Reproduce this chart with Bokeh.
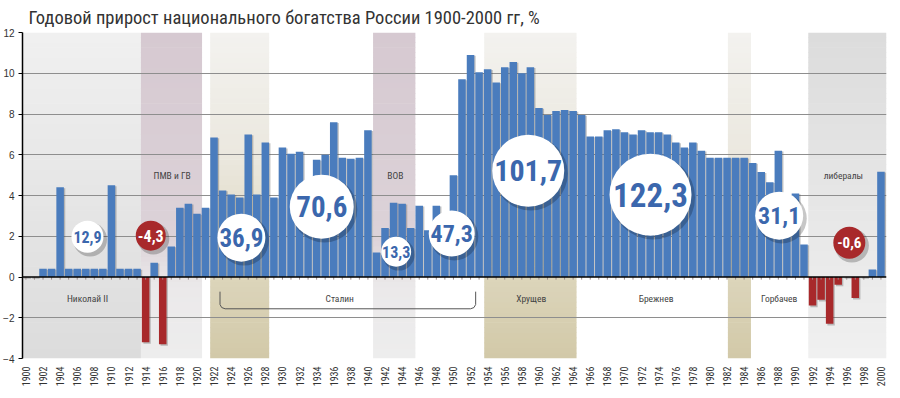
from bokeh.plotting import figure
from bokeh.models import FixedTicker, Span, ColumnDataSource
from bokeh.core.properties import value
from bokeh.embed import file_html
from bokeh.resources import INLINE
import math

# ---------------- data ----------------
years = list(range(1900, 2001))
growth = [
    0, 0, 0.4, 0.4, 4.4, 0.4, 0.4, 0.4, 0.4, 0.4,          # 1900-1909
    4.5, 0.4, 0.4, 0.4, -3.2, 0.7, -3.3, 1.5, 3.4, 3.6,    # 1910-1919
    3.1, 3.4, 6.85, 4.25, 4.05, 3.9, 7.0, 4.05, 6.6, 3.9,  # 1920-1929
    6.35, 6.05, 6.15, 4.1, 5.75, 6.0, 7.6, 5.85, 5.8, 5.85,  # 1930-1939
    7.2, 1.2, 2.4, 3.65, 3.6, 2.4, 3.5, 2.3, 3.5, 2.3,     # 1940-1949
    5.0, 9.7, 10.9, 10.05, 10.2, 9.55, 10.3, 10.55, 10.0, 10.3,  # 1950-1959
    8.3, 7.95, 8.15, 8.2, 8.15, 7.95, 6.9, 6.9, 7.2, 7.25,  # 1960-1969
    7.1, 7.0, 7.2, 7.1, 7.1, 7.0, 6.6, 6.35, 6.6, 6.2,     # 1970-1979
    5.85, 5.85, 5.85, 5.85, 5.85, 5.6, 5.15, 4.65, 6.2, 3.8,  # 1980-1989
    4.1, 1.6, -1.4, -1.12, -2.3, -0.38, 0, -1.03, 0, 0.37,  # 1990-1999
    5.17,                                                  # 2000
]
y_ticks = [-4, -2, 0, 2, 4, 6, 8, 10, 12]
x_ticks = list(range(1900, 2001, 2))

title_text = "Годовой прирост национального богатства России 1900-2000 гг, %"

# periods (shaded bands)
band_names = ["Николай II", "ПМВ и ГВ", "НЭП", "ВОВ", "Хрущев", "Андропов-Черненко", "либералы"]
band_start = [1899.6, 1913.45, 1921.55, 1940.6, 1953.6, 1982.1, 1991.5]
band_end = [1913.45, 1920.6, 1928.45, 1945.55, 1964.4, 1984.8, 2000.65]
band_kind = ["gray", "mauve", "tan", "mauve", "tan", "tan", "liberal"]

# period totals (circles)
total_text = ["12,9", "-4,3", "36,9", "70,6", "13,3", "47,3", "101,7", "122,3", "31,1", "-0,6"]
total_neg = [False, True, False, False, False, False, False, False, False, True]

# period names
period_text = ["Николай II", "ПМВ и ГВ", "ВОВ", "Сталин", "Хрущев", "Брежнев", "Горбачев", "либералы"]

# ---------------- layout / style ----------------
circ_x = [1907.2, 1914.6, 1925.2, 1934.6, 1943.3, 1949.8, 1958.75, 1973.05, 1988.1, 1996.3]
circ_y = [1.98, 2.03, 1.93, 3.45, 1.24, 2.13, 5.22, 4.04, 3.01, 1.68]
circ_d = [32, 30, 48, 64, 30, 46, 72, 82, 48, 32]
circ_fs = [16, 16, 25, 29, 16, 24, 30, 33, 24, 15]

per_x = [1907.2, 1917.1, 1943.2, 1936.7, 1959.1, 1973.7, 1988.1, 1995.6]
per_y = [-1.05, 4.97, 4.97, -1.05, -1.05, -1.05, -1.05, 4.97]

stops = {
    "gray": [(12, "#f0f0f0"), (-4, "#dcdcdc")],
    "mauve": [(12, "#d6c9d1"), (2, "#dcd2d8"), (-0.5, "#ebe9ea"), (-4, "#ededed")],
    "tan": [(12, "#f3f2ef"), (6, "#ebe8df"), (0, "#dcd5bb"), (-4, "#d2c9a8")],
    "liberal": [(12, "#dcdcdc"), (-4, "#f0f0f0")],
}

COND = "Roboto Condensed, DejaVu Sans Condensed"
BLUE = "#4a7cbd"
RED = "#a8292b"


def hex2rgb(h):
    h = h.lstrip("#")
    return tuple(int(h[i:i + 2], 16) for i in (0, 2, 4))


def interp(st, y):
    for (y0, c0), (y1, c1) in zip(st, st[1:]):
        if y1 <= y <= y0:
            t = (y0 - y) / (y0 - y1) if y0 != y1 else 0
            a, b = hex2rgb(c0), hex2rgb(c1)
            return "#%02x%02x%02x" % tuple(round(a[i] + (b[i] - a[i]) * t) for i in range(3))
    return st[-1][1] if y < st[-1][0] else st[0][1]


p = figure(width=889, height=394, x_range=(1899.6, 2000.65), y_range=(-4, 12),
           output_backend="svg", toolbar_location=None,
           min_border_left=20, min_border_right=3, min_border_top=32, min_border_bottom=36)
p.outline_line_color = None
p.background_fill_color = "white"
p.border_fill_color = "white"

# title
p.title.text = title_text
p.title.text_font = COND
p.title.text_font_size = "18.5px"
p.title.text_font_style = "normal"
p.title.text_color = "#333333"
p.title.standoff = 8
p.title.offset = 6

# bands with vertical gradient
step = 0.25
nsl = int(16 / step)
ql, qr, qb, qt, qc = [], [], [], [], []
for s, e, k in zip(band_start, band_end, band_kind):
    for i in range(nsl):
        yb = -4 + i * step
        ql.append(s); qr.append(e); qb.append(yb); qt.append(min(12, yb + step + 0.03))
        qc.append(interp(stops[k], yb + step / 2))
p.quad(left=ql, right=qr, bottom=qb, top=qt, fill_color=qc, line_color=None, level="image")

# grid
p.xgrid.visible = False
p.ygrid.ticker = FixedTicker(ticks=[t for t in y_ticks if t not in (-4, 0)])
p.ygrid.grid_line_color = "#8e8e8e"
p.ygrid.grid_line_width = 1

# bar shadows and bars
colors = [BLUE if v >= 0 else RED for v in growth]
src = ColumnDataSource(dict(x=years, v=growth, c=colors, xs=[y + 0.17 for y in years],
                            vs=[v - 0.04 if v > 0 else v - 0.08 for v in growth]))
p.vbar(x="xs", top="vs", bottom=0, width=0.86, source=src, fill_color="#555555",
       fill_alpha=0.35, line_color=None)
p.vbar(x="x", top="v", bottom=0, width=0.88, source=src, fill_color="c", line_color=None)

# zero line + year ticks
p.segment(x0=years, y0=[0] * len(years), x1=years, y1=[-0.13] * len(years),
          line_color="#9a8a8a", line_width=1)
p.add_layout(Span(location=0, dimension="width", line_color="black", line_width=1.6))

# Stalin bracket
bx = [1922.7, 1922.7, 1922.9, 1923.3, 1952.0, 1952.4, 1952.6, 1952.6]
by = [-0.72, -1.35, -1.5, -1.56, -1.56, -1.5, -1.35, -0.72]
p.line(bx, by, line_color="#555555", line_width=1)

# period names
p.text(x=per_x, y=per_y, text=period_text, text_font=value(COND), text_font_size="9.5px",
       text_color="#444444", text_align="center", text_baseline="middle")

# circles with totals
shx = [x + 0.3 for x in circ_x]
shy = [y - 0.14 for y in circ_y]
p.scatter(x=shx, y=shy, size=[d + 2 for d in circ_d], fill_color="#000000", fill_alpha=0.22,
          line_color=None)
p.scatter(x=circ_x, y=circ_y, size=circ_d,
          fill_color=[RED if n else "white" for n in total_neg], line_color=None)
p.text(x=circ_x, y=circ_y, text=total_text, text_font=value(COND),
       text_font_size=[f"{f}px" for f in circ_fs], text_font_style="bold",
       text_color=["white" if n else "#3b67ad" for n in total_neg],
       text_align="center", text_baseline="middle")

# axes
p.yaxis.ticker = FixedTicker(ticks=y_ticks)
p.yaxis.axis_line_color = "black"
p.yaxis.axis_line_width = 1.5
p.yaxis.major_tick_line_color = "black"
p.yaxis.major_tick_out = 4
p.yaxis.major_tick_in = 0
p.yaxis.minor_tick_line_color = None
p.yaxis.minor_tick_out = 0
p.yaxis.major_label_standoff = 4
p.yaxis.major_label_text_font = "Liberation Sans"
p.yaxis.major_label_text_font_size = "10px"
p.yaxis.major_label_text_color = "#333333"

p.xaxis.ticker = FixedTicker(ticks=x_ticks)
p.xaxis.axis_line_color = None
p.xaxis.major_tick_line_color = None
p.xaxis.minor_tick_line_color = None
p.xaxis.major_tick_out = 0
p.xaxis.minor_tick_out = 0
p.xaxis.major_label_orientation = math.pi / 2
p.xaxis.major_label_standoff = 8
p.xaxis.major_label_text_font = COND
p.xaxis.major_label_text_font_size = "10px"
p.xaxis.major_label_text_color = "#333333"

open("out.html", "w").write(file_html(p, INLINE))
